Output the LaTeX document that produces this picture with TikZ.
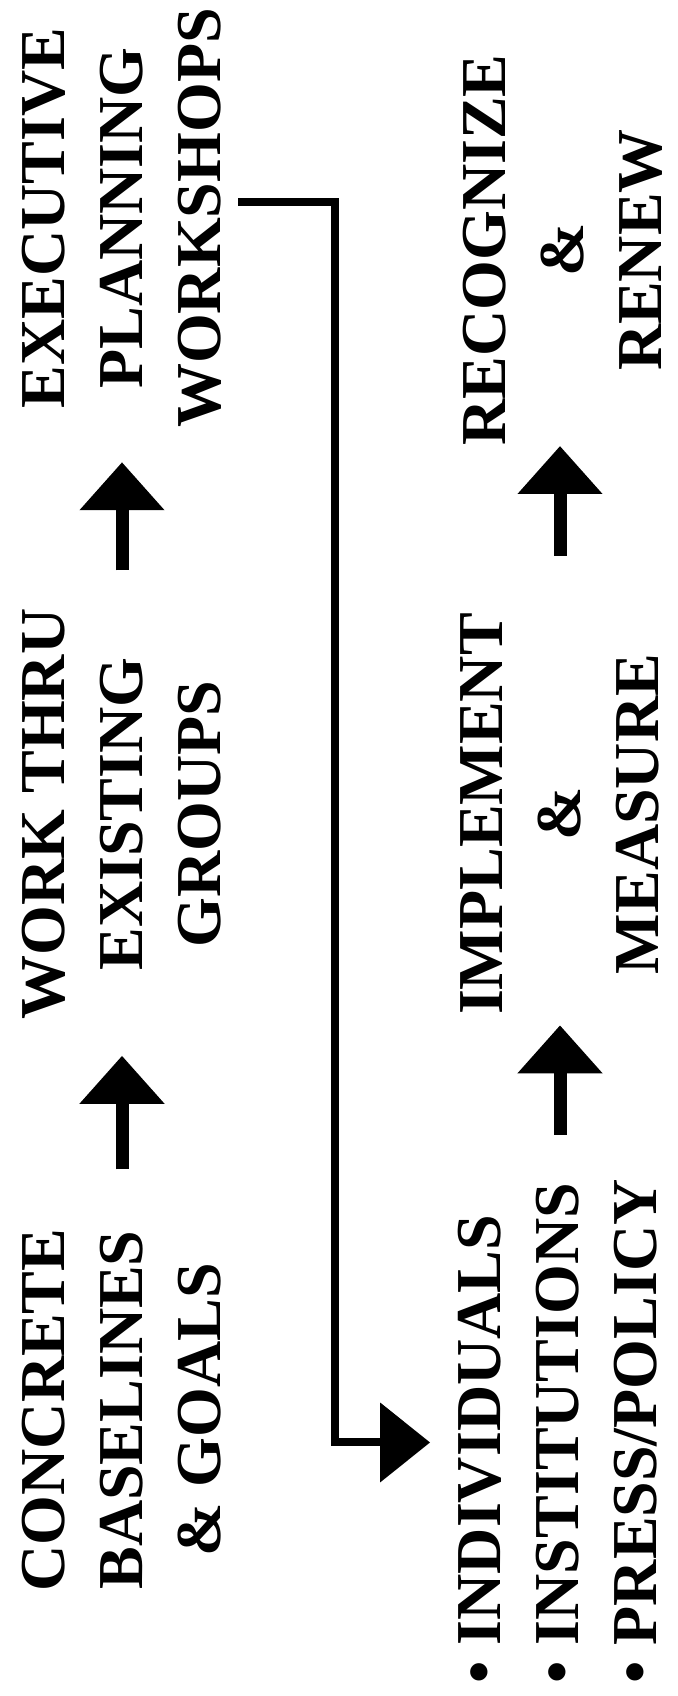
\documentclass[tikz,border=0pt]{standalone}
\usepackage{fontspec}
\setmainfont{Liberation Serif}
\usetikzlibrary{arrows.meta}

\begin{document}
\begin{tikzpicture}[x=0.5pt, y=-0.5pt,
    stage/.style={rotate=90, inner sep=0pt, align=center,
      font=\bfseries\fontsize{32}{39}\selectfont},
    bigarrow/.style={line width=6.5pt, -{Triangle[width=41pt, length=24pt]}},
    linkarrow/.style={line width=4pt, -{Triangle[width=39pt, length=25pt]}}]

  \useasboundingbox (0,0) rectangle (677,1696);

  \newcommand\XL{122}
  \newcommand\XR{560}
  \newcommand\YA{1410}
  \newcommand\YB{814}
  \newcommand\YC{218}

  % first row
  \node[stage] (concrete) at (\XL, \YA) {CONCRETE\\BASELINES\\\& GOALS};
  \node[stage] (workthru) at (\XL, \YB) {WORK THRU\\EXISTING\\GROUPS};
  \node[stage] (executive) at (\XL, \YC) {EXECUTIVE\\PLANNING\\WORKSHOPS};

  % second row
  \node[stage, align=left, anchor=west] (targets) at (\XR-2, 1684)
    {\textbullet\ INDIVIDUALS\\\textbullet\ INSTITUTIONS\\\textbullet\ PRESS/POLICY};
  \node[stage] (implement) at (\XR, \YB) {IMPLEMENT\\\&\\MEASURE};
  \node[stage] (recognize) at (\XR+3, \YC+32) {RECOGNIZE\\\&\\RENEW};

  \draw[bigarrow, shorten <=29.5pt, shorten >=18pt] (concrete.east) -- (workthru.west);
  \draw[bigarrow, shorten <=19pt, shorten >=17pt] (workthru.east) -- (executive.west);
  \draw[bigarrow, shorten <=22pt, shorten >=5pt] (implement.west |- targets.east) -- (implement.west);
  \draw[bigarrow, shorten <=28.5pt] (implement.east) -- (implement.east |- recognize.west);

  % workshops feed the second row
  \draw[linkarrow] ([shift={(8pt,8pt)}]executive.south) -- ++(97,0)
    |- ([shift={(-14pt,-5.5pt)}]targets.north);

\end{tikzpicture}
\end{document}
